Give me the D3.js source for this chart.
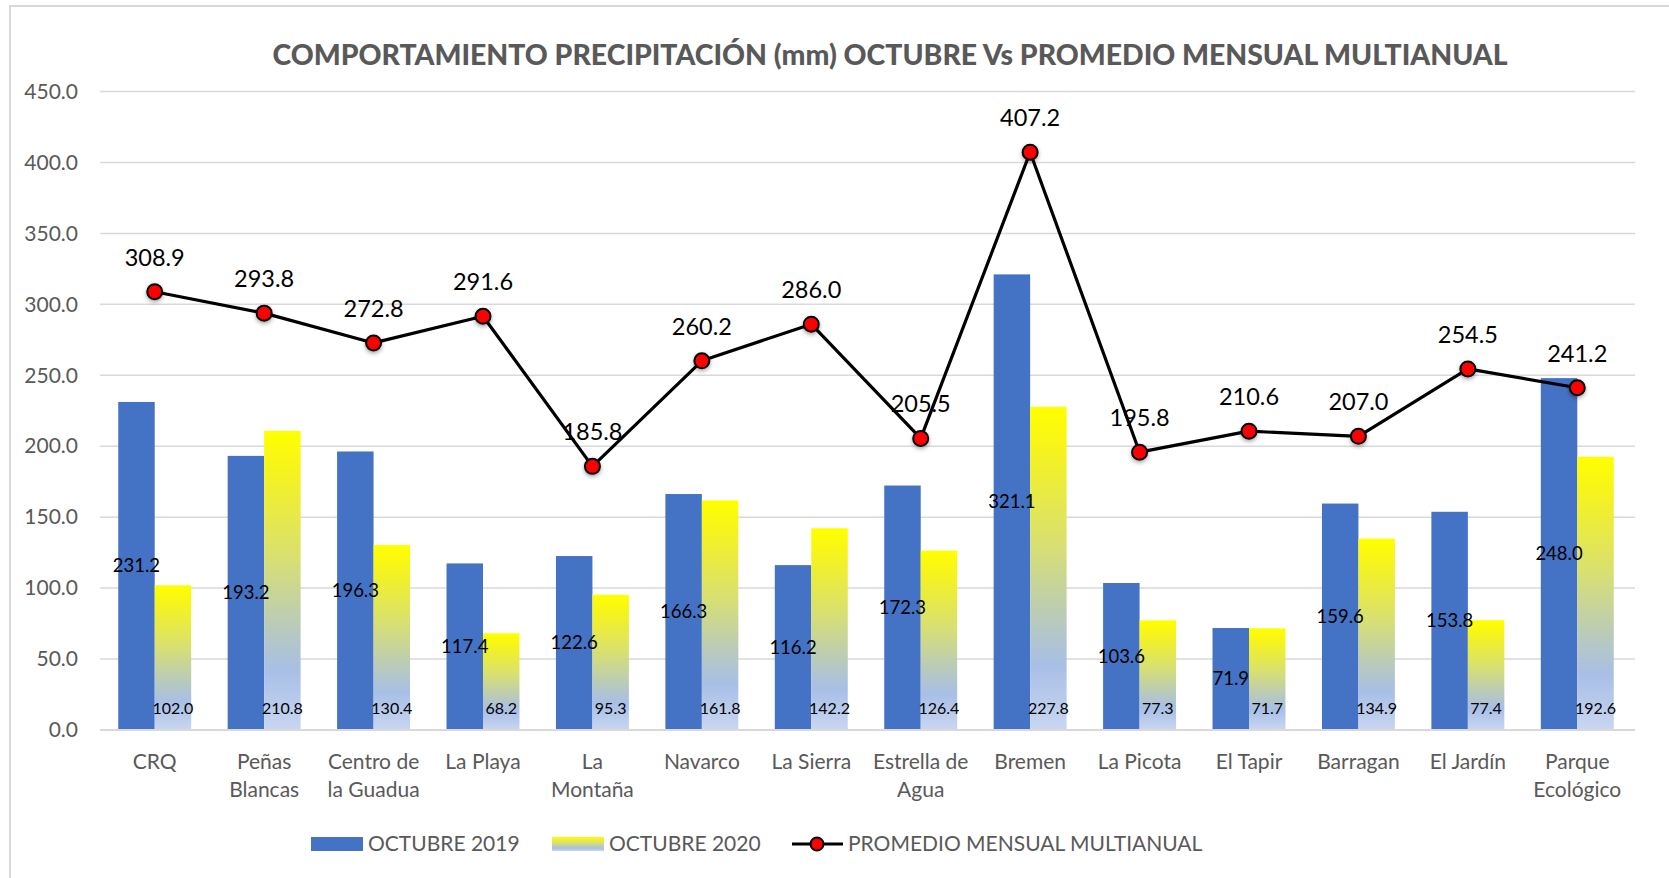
<!DOCTYPE html>
<html>
<head>
<meta charset="utf-8">
<script src="https://cdn.jsdelivr.net/npm/d3@7"></script>
<style>
  html, body { margin: 0; padding: 0; background: #fff; }
  svg { display: block; }
  text { font-family: Lato, "Open Sans", sans-serif; }
</style>
</head>
<body>
<svg id="chart" width="1669" height="878"></svg>
<script>
const title = "COMPORTAMIENTO PRECIPITACIÓN (mm) OCTUBRE Vs PROMEDIO MENSUAL MULTIANUAL";
const categories = ["CRQ", "Peñas Blancas", "Centro de la Guadua", "La Playa", "La Montaña", "Navarco", "La Sierra", "Estrella de Agua", "Bremen", "La Picota", "El Tapir", "Barragan", "El Jardín", "Parque Ecológico"];
const categoryLines = [["CRQ"], ["Peñas", "Blancas"], ["Centro de", "la Guadua"], ["La Playa"], ["La", "Montaña"], ["Navarco"], ["La Sierra"], ["Estrella de", "Agua"], ["Bremen"], ["La Picota"], ["El Tapir"], ["Barragan"], ["El Jardín"], ["Parque", "Ecológico"]];
const octubre2019 = [231.2, 193.2, 196.3, 117.4, 122.6, 166.3, 116.2, 172.3, 321.1, 103.6, 71.9, 159.6, 153.8, 248.0];
const octubre2020 = [102.0, 210.8, 130.4, 68.2, 95.3, 161.8, 142.2, 126.4, 227.8, 77.3, 71.7, 134.9, 77.4, 192.6];
const promedio = [308.9, 293.8, 272.8, 291.6, 185.8, 260.2, 286.0, 205.5, 407.2, 195.8, 210.6, 207.0, 254.5, 241.2];
const yTicks = [0, 50, 100, 150, 200, 250, 300, 350, 400, 450];
const seriesNames = ["OCTUBRE 2019", "OCTUBRE 2020", "PROMEDIO MENSUAL MULTIANUAL"];

const svg = d3.select("#chart");
const gray = "#595959";
const blue = "#4472C4";

// defs
const defs = svg.append("defs");
const grad = defs.append("linearGradient").attr("id", "yellowGrad")
  .attr("x1", 0).attr("y1", 0).attr("x2", 0).attr("y2", 1);
[[0, "#ffff00"], [0.12, "#f7f41a"], [0.42, "#d9e070"], [0.68, "#b6c8c2"], [0.8, "#a8bfe6"], [1, "#c8d6f1"]]
  .forEach(([o, c]) => grad.append("stop").attr("offset", o).attr("stop-color", c));
const shadow = defs.append("filter").attr("id", "shadow").attr("x", "-50%").attr("y", "-50%").attr("width", "200%").attr("height", "200%");
shadow.append("feDropShadow").attr("dx", 0).attr("dy", 2).attr("stdDeviation", 2).attr("flood-color", "#000").attr("flood-opacity", 0.35);

// chart border
svg.append("rect").attr("x", 10).attr("y", 6).attr("width", 1700).attr("height", 900)
  .attr("fill", "#fff").attr("stroke", "#d9d9d9").attr("stroke-width", 2);

const x = d3.scaleBand().domain(categories).range([100, 1632]).paddingInner(0).paddingOuter(0);
const y = d3.scaleLinear().domain([0, 450]).range([730, 91.5]);
const bw = x.bandwidth() / 3;
const cx = c => x(c) + x.bandwidth() / 2;

// title
const t = svg.append("text").attr("x", 890).attr("y", 65).attr("text-anchor", "middle")
  .attr("font-weight", 900).attr("fill", gray).attr("font-size", 26).text(title);
const tl = t.node().getComputedTextLength();
t.attr("font-size", 26 * 1236 / tl);

// gridlines
svg.append("g").selectAll("line").data(yTicks.slice(1)).join("line")
  .attr("x1", 100).attr("x2", 1635).attr("y1", d => y(d)).attr("y2", d => y(d))
  .attr("stroke", "#d9d9d9").attr("stroke-width", 1.5);

// y axis labels via d3 axis
const yAxis = svg.append("g").attr("transform", "translate(100,0)")
  .call(d3.axisLeft(y).tickValues(yTicks).tickFormat(d3.format(".1f")).tickSize(0).tickPadding(22));
yAxis.select(".domain").remove();
yAxis.selectAll("text").attr("font-size", 21).attr("fill", gray).attr("font-family", "Lato, sans-serif");

// bars 2019
svg.append("g").selectAll("rect").data(octubre2019).join("rect")
  .attr("x", (d, i) => cx(categories[i]) - bw).attr("width", bw)
  .attr("y", d => y(d)).attr("height", d => y(0) - y(d)).attr("fill", blue);
// bars 2020
svg.append("g").selectAll("rect").data(octubre2020).join("rect")
  .attr("x", (d, i) => cx(categories[i])).attr("width", bw)
  .attr("y", d => y(d)).attr("height", d => y(0) - y(d)).attr("fill", "url(#yellowGrad)");

// baseline
svg.append("line").attr("x1", 100).attr("x2", 1635).attr("y1", y(0)).attr("y2", y(0))
  .attr("stroke", "#d9d9d9").attr("stroke-width", 2);

// x labels
const xl = svg.append("g").selectAll("text").data(categoryLines).join("text")
  .attr("text-anchor", "middle").attr("fill", gray).attr("font-size", 21)
  .attr("transform", (d, i) => `translate(${cx(categories[i])},769)`);
xl.selectAll("tspan").data(d => d).join("tspan").attr("x", 0).attr("dy", (d, j) => j === 0 ? 0 : 28).text(d => d);

// line
const line = d3.line().x((d, i) => cx(categories[i])).y(d => y(d));
svg.append("path").datum(promedio).attr("d", line).attr("fill", "none")
  .attr("stroke", "#000").attr("stroke-width", 3.2).attr("stroke-linejoin", "round");
svg.append("g").selectAll("circle").data(promedio).join("circle")
  .attr("cx", (d, i) => cx(categories[i])).attr("cy", d => y(d)).attr("r", 7.5)
  .attr("fill", "#ff0000").attr("stroke", "#000").attr("stroke-width", 2).attr("filter", "url(#shadow)");

// data labels
svg.append("g").selectAll("text").data(octubre2019).join("text")
  .attr("x", (d, i) => cx(categories[i]) - bw / 2).attr("y", d => (y(d) + y(0)) / 2 + 6)
  .attr("text-anchor", "middle").attr("font-size", 18.5).attr("fill", "#000").text(d => d.toFixed(1));
svg.append("g").selectAll("text").data(octubre2020).join("text")
  .attr("x", (d, i) => cx(categories[i]) + bw / 2).attr("y", 714)
  .attr("text-anchor", "middle").attr("font-size", 16).attr("fill", "#000").text(d => d.toFixed(1));
svg.append("g").selectAll("text").data(promedio).join("text")
  .attr("x", (d, i) => cx(categories[i])).attr("y", d => y(d) - 26)
  .attr("text-anchor", "middle").attr("font-size", 23.5).attr("fill", "#000").text(d => d.toFixed(1));

// legend
const lg = svg.append("g");
const ly = 844;
lg.append("rect").attr("x", 311).attr("y", ly - 7).attr("width", 52).attr("height", 14).attr("fill", blue);
lg.append("text").attr("x", 368).attr("y", ly + 7).attr("font-size", 21).attr("fill", gray).text(seriesNames[0]);
lg.append("rect").attr("x", 552).attr("y", ly - 7).attr("width", 52).attr("height", 14).attr("fill", "url(#yellowGrad)");
lg.append("text").attr("x", 609).attr("y", ly + 7).attr("font-size", 21).attr("fill", gray).text(seriesNames[1]);
lg.append("line").attr("x1", 792).attr("x2", 843).attr("y1", ly).attr("y2", ly).attr("stroke", "#000").attr("stroke-width", 3.2);
lg.append("circle").attr("cx", 817).attr("cy", ly).attr("r", 6.5).attr("fill", "#ff0000").attr("stroke", "#000").attr("stroke-width", 2);
lg.append("text").attr("x", 848).attr("y", ly + 7).attr("font-size", 21).attr("fill", gray).text(seriesNames[2]);
</script>
</body>
</html>
